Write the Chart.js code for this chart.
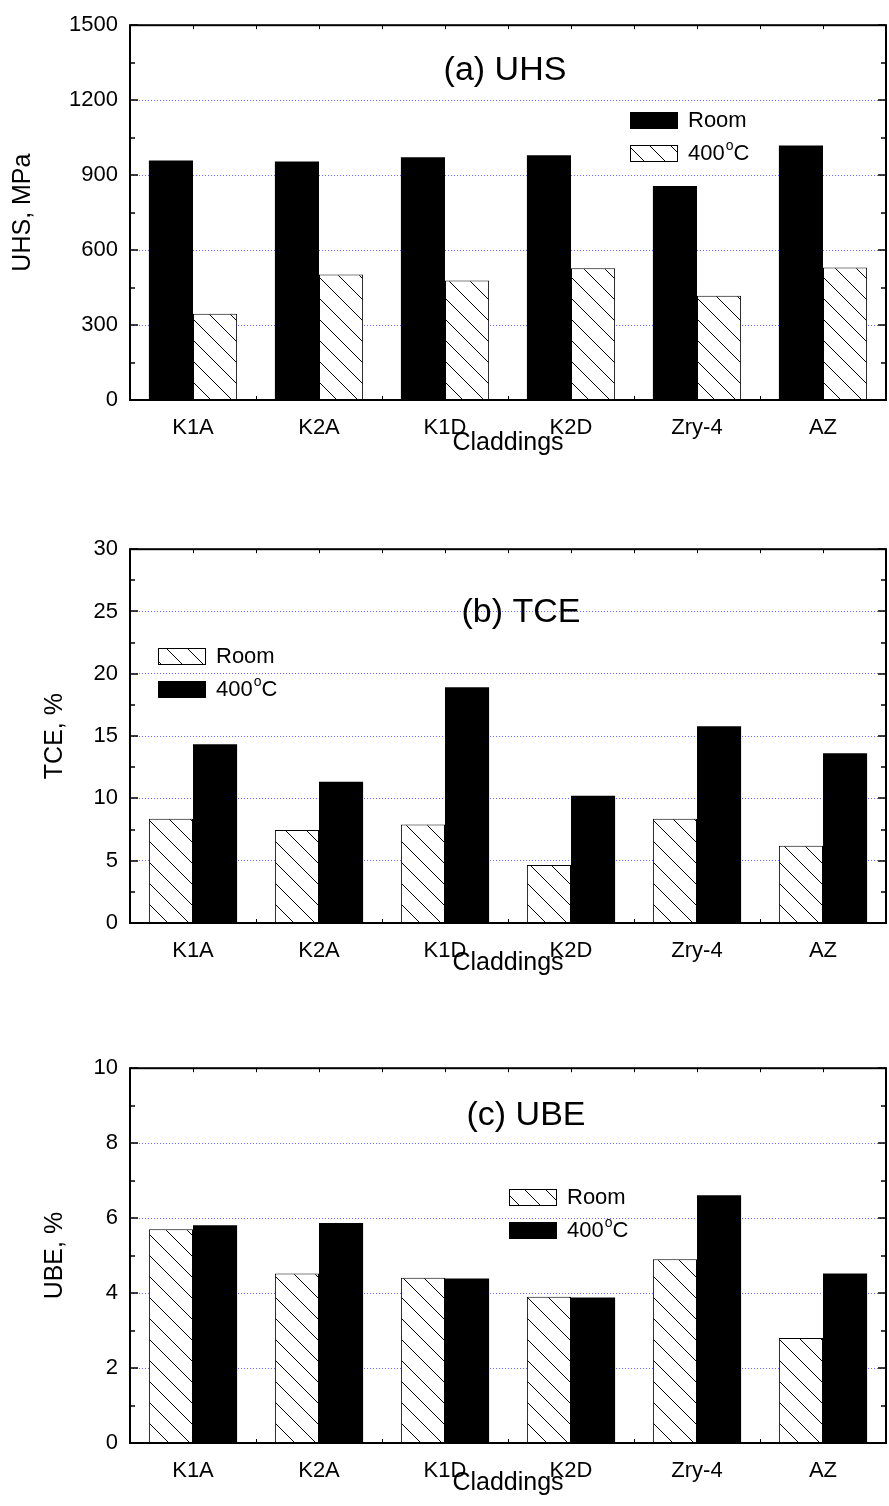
<!DOCTYPE html>
<html>
<head>
<meta charset="utf-8">
<script src="https://cdn.jsdelivr.net/npm/chart.js@4.4.1/dist/chart.umd.min.js"></script>
<style>
  html, body { margin: 0; padding: 0; background: #fff; overflow: hidden; }
  canvas { position: absolute; left: 0; }
</style>
</head>
<body>
<canvas id="uhsChart" width="889" height="500" style="top:0px"></canvas>
<canvas id="tceChart" width="889" height="500" style="top:524px"></canvas>
<canvas id="ubeChart" width="889" height="463" style="top:1043px"></canvas>
<script>
const claddings = ["K1A", "K2A", "K1D", "K2D", "Zry-4", "AZ"];

// (a) UHS, MPa
const uhsRoom = [959, 955, 972, 980, 856, 1019];
const uhs400 = [345, 502, 478, 527, 417, 530];
const uhsTicks = [0, 300, 600, 900, 1200, 1500];

// (b) TCE, %
const tceRoom = [8.37, 7.47, 7.9, 4.65, 8.37, 6.2];
const tce400 = [14.34, 11.33, 18.93, 10.22, 15.79, 13.63];
const tceTicks = [0, 5, 10, 15, 20, 25, 30];

// (c) UBE, %
const ubeRoom = [5.7, 4.52, 4.41, 3.9, 4.9, 2.8];
const ube400 = [5.81, 5.87, 4.39, 3.88, 6.61, 4.52];
const ubeTicks = [0, 2, 4, 6, 8, 10];

const FONT = "'Liberation Sans', Arial, sans-serif";
Chart.defaults.color = "#000";
Chart.defaults.font.family = FONT;

function hatchFor(canvas) {
  const tile = document.createElement("canvas");
  tile.width = 21;
  tile.height = 21;
  const g = tile.getContext("2d");
  g.fillStyle = "#fff";
  g.fillRect(0, 0, 21, 21);
  g.strokeStyle = "#000";
  g.lineWidth = 1;
  g.beginPath();
  for (let k = -1; k <= 1; k++) {
    g.moveTo(k * 21, 0);
    g.lineTo(k * 21 + 21, 21);
  }
  g.stroke();
  return canvas.getContext("2d").createPattern(tile, "repeat");
}

// draw "400°C" style text with a raised small o
function drawLabel(ctx, text, x, y) {
  ctx.font = "22px " + FONT;
  ctx.textBaseline = "middle";
  ctx.textAlign = "left";
  const parts = text.split("°");
  ctx.fillText(parts[0], x, y);
  if (parts.length > 1) {
    let cx = x + ctx.measureText(parts[0]).width + 1;
    ctx.font = "14px " + FONT;
    ctx.fillText("o", cx, y - 8);
    cx += ctx.measureText("o").width;
    ctx.font = "22px " + FONT;
    ctx.fillText(parts[1], cx, y);
  }
}

const framePlugin = {
  id: "frame",
  afterDatasetsDraw(chart, args, opts) {
    const { ctx, chartArea: a } = chart;
    const x = chart.scales.x, y = chart.scales.y;
    ctx.save();
    ctx.strokeStyle = "#000";

    // y ticks, major + minor, inward on both sides
    ctx.lineWidth = 1.5;
    const half = y.options.ticks.stepSize / 2;
    const n = Math.round((y.max - y.min) / half);
    for (let i = 0; i <= n; i++) {
      const py = Math.round(y.getPixelForValue(y.min + i * half));
      const len = i % 2 === 0 ? 8 : 5;
      ctx.beginPath();
      ctx.moveTo(a.left, py);
      ctx.lineTo(a.left + len, py);
      ctx.moveTo(a.right, py);
      ctx.lineTo(a.right - len, py);
      ctx.stroke();
    }

    // small x ticks at category centres and boundaries
    ctx.lineWidth = 1;
    for (let i = 0; i <= claddings.length * 2; i++) {
      const px = Math.round(x.getPixelForValue(-0.5 + i / 2)) + 0.5;
      ctx.beginPath();
      ctx.moveTo(px, a.bottom);
      ctx.lineTo(px, a.bottom - 4);
      ctx.moveTo(px, a.top);
      ctx.lineTo(px, a.top + 4);
      ctx.stroke();
    }

    // frame
    ctx.lineWidth = 2;
    ctx.strokeRect(a.left, a.top, a.right - a.left, a.bottom - a.top);

    // panel title
    ctx.fillStyle = "#000";
    ctx.font = "34px " + FONT;
    ctx.textAlign = "center";
    ctx.textBaseline = "middle";
    ctx.fillText(opts.title, opts.titleX, opts.titleY);

    // legend
    chart.data.datasets.forEach((ds, i) => {
      const bx = opts.legendX, by = opts.legendY + i * 33;
      ctx.fillStyle = ds.backgroundColor;
      ctx.fillRect(bx, by, 48, 17);
      ctx.lineWidth = 1;
      ctx.strokeRect(bx + 0.5, by + 0.5, 47, 16);
      ctx.fillStyle = "#000";
      drawLabel(ctx, ds.label, bx + 58, by + 9);
    });
    ctx.restore();
  }
};

function makePanel(id, ticks, yTitle, sets, lay) {
  const canvas = document.getElementById(id);
  const hatch = hatchFor(canvas);
  const plotH = lay.plotH;
  const xH = canvas.height - 21 - plotH;
  const step = ticks[1] - ticks[0];
  const top = ticks[ticks.length - 1];

  new Chart(canvas, {
    type: "bar",
    data: {
      labels: claddings,
      datasets: sets.map((s) => ({
        label: s.label,
        data: s.data,
        backgroundColor: s.hatched ? hatch : "#000",
        borderColor: "#000",
        borderWidth: s.hatched ? 1 : 0,
        categoryPercentage: 0.7,
        barPercentage: 1.0
      }))
    },
    options: {
      responsive: false,
      animation: false,
      devicePixelRatio: 1,
      layout: { padding: { top: 21, right: 3, left: 0, bottom: 0 } },
      plugins: {
        legend: { display: false },
        tooltip: { enabled: false },
        frame: lay.frame
      },
      scales: {
        x: {
          grid: { display: false },
          border: { display: false },
          ticks: { font: { size: 22 }, padding: 7, maxRotation: 0, autoSkip: false },
          title: {
            display: true,
            text: "Claddings",
            font: { size: 25 },
            padding: { top: 0, bottom: xH - lay.xTitleOff - 15 }
          },
          afterFit: (s) => { s.height = xH; }
        },
        y: {
          min: ticks[0],
          max: top,
          ticks: {
            stepSize: step,
            font: { size: 22 },
            padding: 12,
            callback: (v) => String(v)
          },
          grid: {
            drawTicks: false,
            lineWidth: 1,
            color: (c) => (c.tick && (c.tick.value === ticks[0] || c.tick.value === top)) ? "rgba(0,0,0,0)" : "#6b6bff"
          },
          border: { display: false, dash: [1, 2] },
          title: {
            display: true,
            text: yTitle,
            font: { size: 25 },
            padding: { top: lay.yTitleX - 15, bottom: 0 }
          },
          afterFit: (s) => { s.width = 130; }
        }
      }
    },
    plugins: [framePlugin]
  });
}

makePanel("uhsChart", uhsTicks, "UHS, MPa", [
  { label: "Room", data: uhsRoom, hatched: false },
  { label: "400°C", data: uhs400, hatched: true }
], { plotH: 379, xTitleOff: 43, yTitleX: 23,
     frame: { title: "(a) UHS", titleX: 505, titleY: 71, legendX: 630, legendY: 112 } });

makePanel("tceChart", tceTicks, "TCE, %", [
  { label: "Room", data: tceRoom, hatched: true },
  { label: "400°C", data: tce400, hatched: false }
], { plotH: 378, xTitleOff: 40, yTitleX: 55,
     frame: { title: "(b) TCE", titleX: 521, titleY: 89, legendX: 158, legendY: 124 } });

makePanel("ubeChart", ubeTicks, "UBE, %", [
  { label: "Room", data: ubeRoom, hatched: true },
  { label: "400°C", data: ube400, hatched: false }
], { plotH: 379, xTitleOff: 40, yTitleX: 55,
     frame: { title: "(c) UBE", titleX: 526, titleY: 73, legendX: 509, legendY: 146 } });
</script>
</body>
</html>
